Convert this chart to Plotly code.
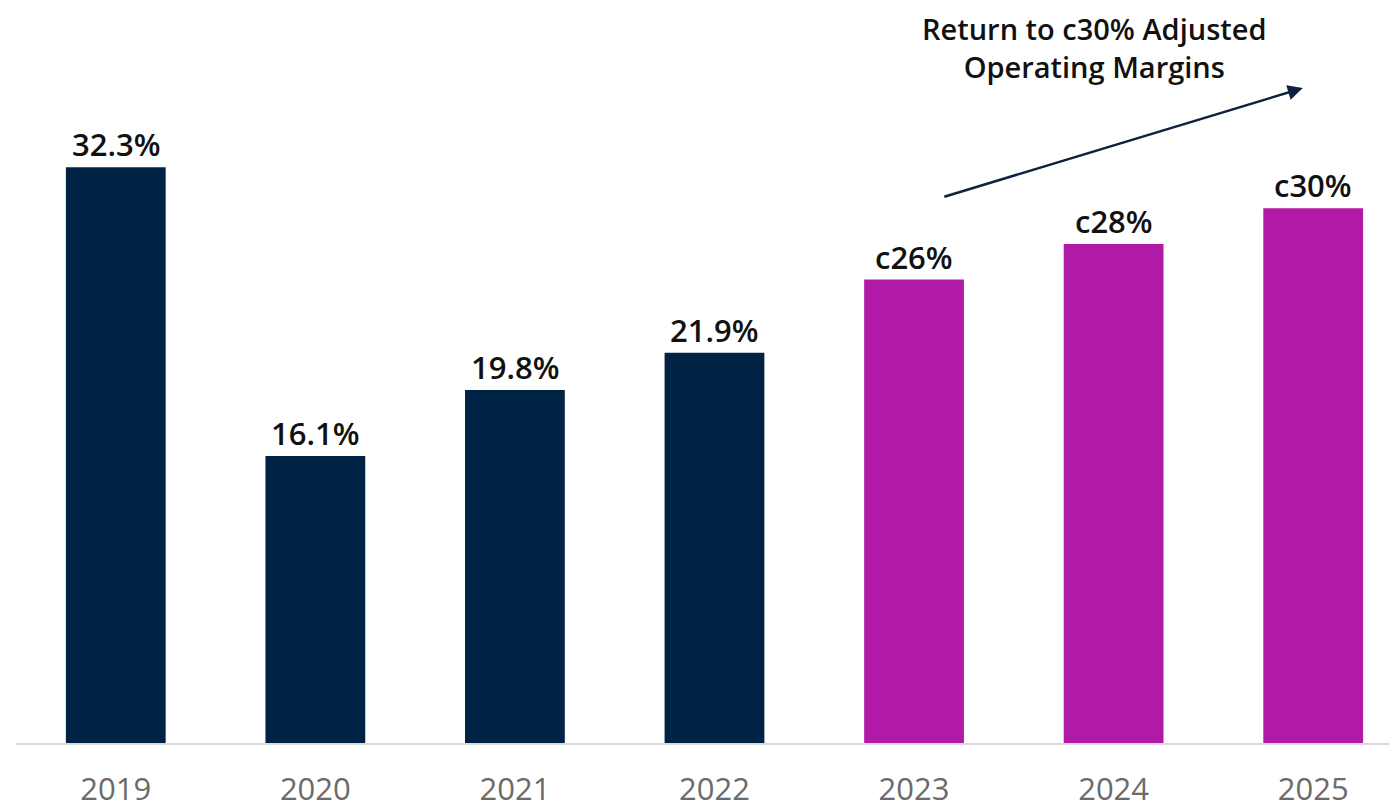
import plotly.graph_objects as go

years = ["2019", "2020", "2021", "2022", "2023", "2024", "2025"]
margins = [32.3, 16.1, 19.8, 21.9, 26, 28, 30]
labels = ["32.3%", "16.1%", "19.8%", "21.9%", "c26%", "c28%", "c30%"]
is_forecast = [False, False, False, False, True, True, True]

NAVY = "#002244"
MAGENTA = "#B01AA7"
colors = [MAGENTA if f else NAVY for f in is_forecast]

fig = go.Figure()
fig.add_trace(go.Bar(x=years, y=margins, marker=dict(color=colors, line=dict(width=0)),
                     width=0.5, hoverinfo="skip"))

for i, (v, lab) in enumerate(zip(margins, labels)):
    fig.add_annotation(x=i, y=v, text=lab, showarrow=False, yanchor="bottom", yshift=0,
                       font=dict(family="Open Sans", size=31, color="#111111", weight=600))

# arrow
fig.add_annotation(x=5.948, y=36.74, ax=4.144, ay=30.62, xref="x", yref="y", axref="x", ayref="y",
                   text="", showarrow=True, arrowhead=2, arrowsize=1.2, arrowwidth=2.5,
                   arrowcolor="#0D2240")
fig.add_annotation(x=0.781, y=0.975, xref="paper", yref="paper", showarrow=False,
                   text="Return to c30% Adjusted<br>Operating Margins", align="center",
                   yanchor="middle", xanchor="center",
                   font=dict(family="Open Sans", size=29, color="#111111", weight=600))

fig.update_layout(
    width=1389, height=794,
    margin=dict(l=8, r=0, t=22, b=59, autoexpand=False),
    paper_bgcolor="white", plot_bgcolor="white",
    showlegend=False,
    xaxis=dict(type="category", range=[-0.5, 6.42], showgrid=False, zeroline=False,
               automargin=False,
               showline=True, linecolor="#D9D9D9", linewidth=2,
               tickfont=dict(family="Open Sans", size=31, color="#6B6B6B"),
               ticks="", ticklabelstandoff=18),
    yaxis=dict(range=[0, 40], visible=False, showgrid=False, zeroline=False, automargin=False),
)

fig.write_html("out.html")
